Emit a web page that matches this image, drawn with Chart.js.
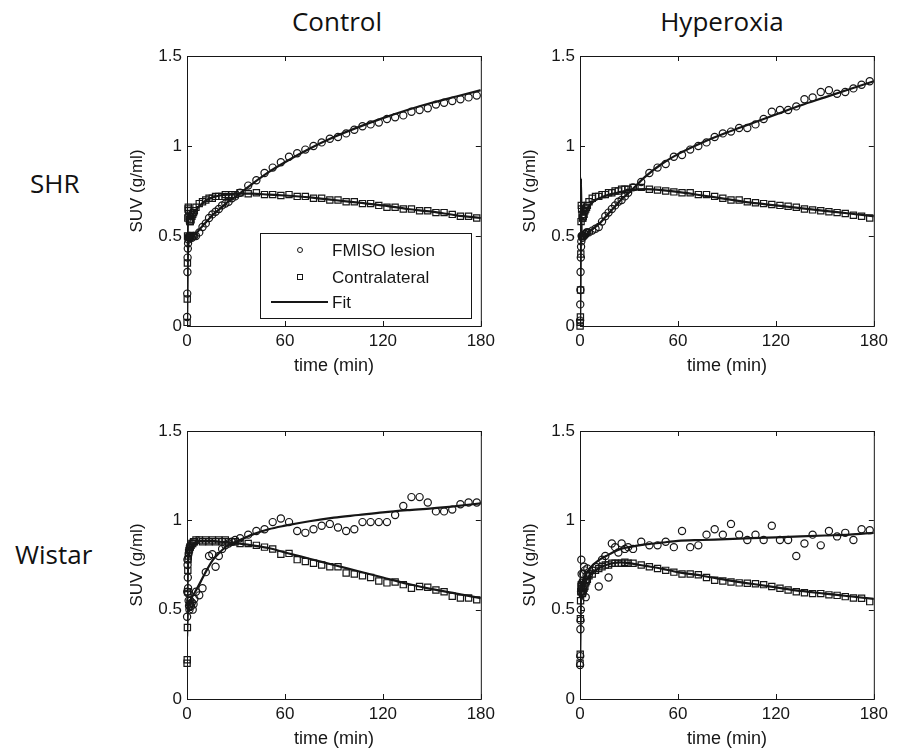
<!DOCTYPE html>
<html>
<head>
<meta charset="utf-8">
<script src="https://cdn.jsdelivr.net/npm/chart.js@4.4.0/dist/chart.umd.min.js"></script>
<style>
  body { margin: 0; background: #fff; width: 897px; height: 753px; position: relative; overflow: hidden; }
  .lbl { position: absolute; font-family: "Open Sans", sans-serif; font-size: 26px; line-height: 26px; color: #111; white-space: nowrap; }
  canvas { position: absolute; }
</style>
</head>
<body>
<div class="lbl" style="left:337px;top:8px;transform:translateX(-50%)">Control</div>
<div class="lbl" style="left:722px;top:8px;transform:translateX(-50%)">Hyperoxia</div>
<div class="lbl" style="left:30px;top:170px">SHR</div>
<div class="lbl" style="left:15px;top:541px">Wistar</div>

<canvas id="shrControl" width="380" height="350" style="left:120px;top:40px"></canvas>
<canvas id="shrHyper" width="380" height="350" style="left:513px;top:40px"></canvas>
<canvas id="wistarControl" width="380" height="348" style="left:120px;top:415px"></canvas>
<canvas id="wistarHyper" width="380" height="348" style="left:513px;top:415px"></canvas>

<script>
// PET frame mid-times (min)
const frameTimes = [0.05, 0.15, 0.25, 0.35, 0.5, 0.65, 0.8, 1.0, 1.25, 1.5, 1.75, 2.0, 2.5, 3.0, 3.5, 4.0, 4.5,
  5.5, 7.5, 9.5, 11.5, 13.5, 15.5, 17.5, 19.5, 21.5, 23.5, 25.5, 27.5, 29.5,
  32.5, 37.5, 42.5, 47.5, 52.5, 57.5, 62.5, 67.5, 72.5, 77.5, 82.5, 87.5, 92.5, 97.5, 102.5,
  107.5, 112.5, 117.5, 122.5, 127.5, 132.5, 137.5, 142.5, 147.5, 152.5, 157.5, 162.5, 167.5, 172.5, 177.5];
const fitTimes = [0, 0.3, 0.6, 1, 2, 3, 5, 8, 12, 16, 20, 25, 30, 40, 50, 60, 75, 90, 105, 120, 135, 150, 165, 180];

const xTicks = [0, 60, 120, 180];
const yTicks = [0, 0.5, 1, 1.5];
const legendLabels = ["FMISO lesion", "Contralateral", "Fit"];

// SHR control
const shrControlLesion = [0.05, 0.18, 0.30, 0.38, 0.43, 0.46, 0.48, 0.49, 0.50, 0.49, 0.50, 0.49, 0.50, 0.49, 0.50, 0.50, 0.50,
  0.50, 0.52, 0.55, 0.57, 0.60, 0.62, 0.635, 0.65, 0.67, 0.68, 0.69, 0.71, 0.72,
  0.74, 0.78, 0.81, 0.85, 0.88, 0.91, 0.94, 0.96, 0.98, 1.00, 1.02, 1.04, 1.05, 1.07, 1.09,
  1.11, 1.12, 1.13, 1.15, 1.16, 1.17, 1.19, 1.20, 1.21, 1.23, 1.24, 1.25, 1.26, 1.27, 1.28];
const shrControlContra = [0.02, 0.15, 0.35, 0.50, 0.60, 0.65, 0.66, 0.64, 0.61, 0.59, 0.58, 0.58, 0.59, 0.61, 0.62, 0.63, 0.64,
  0.66, 0.68, 0.69, 0.70, 0.71, 0.71, 0.72, 0.72, 0.72, 0.73, 0.72, 0.73, 0.73,
  0.74, 0.735, 0.74, 0.73, 0.73, 0.725, 0.73, 0.72, 0.72, 0.71, 0.71, 0.70, 0.70, 0.69, 0.69,
  0.68, 0.68, 0.67, 0.66, 0.66, 0.65, 0.65, 0.64, 0.64, 0.63, 0.63, 0.62, 0.61, 0.61, 0.60];
const shrControlFitLesion = [0, 0.30, 0.42, 0.47, 0.49, 0.50, 0.51, 0.54, 0.58, 0.62, 0.65, 0.69, 0.72, 0.79, 0.855, 0.91, 0.985, 1.05, 1.105, 1.155, 1.20, 1.24, 1.275, 1.31];
const shrControlFitContra = [0, 0.40, 0.60, 0.62, 0.60, 0.61, 0.64, 0.67, 0.70, 0.715, 0.725, 0.73, 0.735, 0.735, 0.73, 0.725, 0.715, 0.70, 0.685, 0.67, 0.65, 0.635, 0.615, 0.60];

// SHR hyperoxia
const shrHyperLesion = [0.03, 0.12, 0.20, 0.30, 0.38, 0.44, 0.47, 0.50, 0.50, 0.49, 0.50, 0.50, 0.50, 0.51, 0.51, 0.52, 0.52,
  0.52, 0.53, 0.54, 0.55, 0.58, 0.61, 0.63, 0.65, 0.67, 0.69, 0.70, 0.72, 0.74,
  0.77, 0.80, 0.85, 0.88, 0.90, 0.94, 0.95, 0.98, 1.00, 1.02, 1.05, 1.07, 1.08, 1.10, 1.10,
  1.12, 1.15, 1.19, 1.20, 1.20, 1.22, 1.26, 1.27, 1.30, 1.31, 1.29, 1.30, 1.32, 1.34, 1.36];
const shrHyperContra = [0.00, 0.02, 0.05, 0.20, 0.40, 0.58, 0.67, 0.65, 0.62, 0.60, 0.60, 0.61, 0.62, 0.64, 0.65, 0.66, 0.67,
  0.69, 0.71, 0.72, 0.72, 0.73, 0.73, 0.74, 0.74, 0.75, 0.75, 0.76, 0.76, 0.76,
  0.77, 0.77, 0.76, 0.755, 0.75, 0.745, 0.74, 0.74, 0.73, 0.73, 0.72, 0.71, 0.70, 0.70, 0.69,
  0.685, 0.68, 0.675, 0.67, 0.665, 0.66, 0.65, 0.645, 0.64, 0.635, 0.63, 0.625, 0.615, 0.61, 0.60];
const shrHyperFitLesion = [0, 0.45, 0.82, 0.52, 0.50, 0.50, 0.52, 0.54, 0.57, 0.61, 0.65, 0.70, 0.74, 0.83, 0.90, 0.955, 1.02, 1.075, 1.125, 1.175, 1.225, 1.27, 1.315, 1.36];
const shrHyperFitContra = [0, 0.30, 0.65, 0.64, 0.62, 0.63, 0.66, 0.69, 0.71, 0.725, 0.735, 0.745, 0.755, 0.76, 0.755, 0.745, 0.725, 0.705, 0.685, 0.67, 0.655, 0.64, 0.625, 0.61];

// Wistar control
const wistarControlLesion = [0.46, 0.60, 0.78, 0.75, 0.68, 0.62, 0.59, 0.55, 0.52, 0.50, 0.53, 0.55, 0.52, 0.54, 0.50, 0.53, 0.56,
  0.60, 0.58, 0.62, 0.71, 0.80, 0.81, 0.74, 0.80, 0.84, 0.86, 0.87, 0.88, 0.89,
  0.90, 0.92, 0.94, 0.95, 0.99, 1.01, 0.99, 0.94, 0.93, 0.95, 0.97, 0.98, 0.96, 0.94, 0.95,
  0.99, 0.99, 0.99, 0.99, 1.03, 1.08, 1.13, 1.13, 1.10, 1.05, 1.05, 1.06, 1.09, 1.10, 1.10];
const wistarControlContra = [0.20, 0.22, 0.40, 0.60, 0.72, 0.78, 0.80, 0.82, 0.83, 0.84, 0.85, 0.85, 0.86, 0.87, 0.87, 0.88, 0.88,
  0.89, 0.89, 0.88, 0.89, 0.88, 0.89, 0.88, 0.89, 0.88, 0.89, 0.88, 0.88, 0.88,
  0.87, 0.87, 0.86, 0.85, 0.84, 0.81, 0.815, 0.78, 0.77, 0.76, 0.75, 0.74, 0.74, 0.705, 0.70,
  0.69, 0.68, 0.66, 0.65, 0.655, 0.64, 0.62, 0.63, 0.625, 0.61, 0.60, 0.575, 0.565, 0.565, 0.555];
const wistarControlFitLesion = [0.35, 0.45, 0.50, 0.53, 0.55, 0.57, 0.60, 0.65, 0.72, 0.78, 0.82, 0.86, 0.88, 0.92, 0.95, 0.97, 0.995, 1.015, 1.03, 1.045, 1.057, 1.067, 1.08, 1.095];
const wistarControlFitContra = [0.35, 0.60, 0.75, 0.80, 0.84, 0.86, 0.875, 0.885, 0.885, 0.885, 0.88, 0.878, 0.872, 0.86, 0.845, 0.82, 0.785, 0.75, 0.715, 0.68, 0.645, 0.615, 0.59, 0.565];

// Wistar hyperoxia
const wistarHyperLesion = [0.19, 0.24, 0.39, 0.44, 0.50, 0.60, 0.78, 0.70, 0.65, 0.62, 0.66, 0.70, 0.74, 0.72, 0.57, 0.69, 0.73,
  0.70, 0.72, 0.74, 0.63, 0.78, 0.80, 0.68, 0.87, 0.85, 0.82, 0.87, 0.84, 0.85,
  0.84, 0.88, 0.86, 0.86, 0.88, 0.85, 0.94, 0.85, 0.86, 0.92, 0.95, 0.92, 0.98, 0.92, 0.89,
  0.92, 0.89, 0.97, 0.89, 0.89, 0.80, 0.87, 0.92, 0.86, 0.94, 0.91, 0.93, 0.89, 0.95, 0.945];
const wistarHyperContra = [0.20, 0.25, 0.45, 0.55, 0.60, 0.63, 0.64, 0.62, 0.60, 0.59, 0.60, 0.61, 0.62, 0.63, 0.65, 0.66, 0.67,
  0.69, 0.70, 0.72, 0.73, 0.74, 0.75, 0.75, 0.76, 0.76, 0.76, 0.76, 0.765, 0.76,
  0.76, 0.75, 0.74, 0.73, 0.72, 0.71, 0.70, 0.70, 0.695, 0.68, 0.665, 0.66, 0.655, 0.65, 0.648,
  0.645, 0.64, 0.63, 0.62, 0.61, 0.60, 0.595, 0.59, 0.59, 0.583, 0.58, 0.573, 0.565, 0.564, 0.545];
const wistarHyperFitLesion = [0.20, 0.50, 0.60, 0.64, 0.67, 0.69, 0.72, 0.75, 0.78, 0.80, 0.82, 0.84, 0.85, 0.865, 0.875, 0.885, 0.89, 0.895, 0.90, 0.905, 0.91, 0.915, 0.92, 0.93];
const wistarHyperFitContra = [0.20, 0.50, 0.60, 0.62, 0.63, 0.65, 0.68, 0.71, 0.735, 0.75, 0.76, 0.765, 0.76, 0.745, 0.73, 0.71, 0.69, 0.665, 0.645, 0.625, 0.605, 0.59, 0.575, 0.56];

const ink = "#161616";
Chart.defaults.font.family = "Liberation Sans";
Chart.defaults.color = ink;

function toPoints(xs, ys) {
  return xs.map((x, i) => ({ x, y: ys[i] }));
}

// matlab style box with inward ticks on all four sides
const frameTicks = {
  id: "frameTicks",
  afterDatasetsDraw(chart) {
    const { ctx, chartArea: a, scales: { x, y } } = chart;
    ctx.save();
    ctx.strokeStyle = ink;
    ctx.lineWidth = 1;
    ctx.strokeRect(a.left + 0.5, a.top + 0.5, a.right - a.left, a.bottom - a.top);
    ctx.beginPath();
    xTicks.forEach(v => {
      const px = Math.round(x.getPixelForValue(v)) + 0.5;
      ctx.moveTo(px, a.bottom); ctx.lineTo(px, a.bottom - 5);
      ctx.moveTo(px, a.top); ctx.lineTo(px, a.top + 5);
    });
    yTicks.forEach(v => {
      const py = Math.round(y.getPixelForValue(v)) + 0.5;
      ctx.moveTo(a.left, py); ctx.lineTo(a.left + 5, py);
      ctx.moveTo(a.right, py); ctx.lineTo(a.right - 5, py);
    });
    ctx.stroke();
    ctx.restore();
  }
};

const legendBox = {
  id: "legendBox",
  afterDraw(chart, args, opts) {
    if (!opts.show) return;
    const { ctx, chartArea: a } = chart;
    const w = 211, h = 85;
    const left = Math.round(a.right - 10 - w), top = Math.round(a.bottom - 8 - h);
    const rows = [17, 44, 69];
    ctx.save();
    ctx.fillStyle = "#fff";
    ctx.fillRect(left, top, w, h);
    ctx.strokeStyle = ink;
    ctx.lineWidth = 1;
    ctx.strokeRect(left + 0.5, top + 0.5, w, h);
    // markers + line
    ctx.beginPath();
    ctx.arc(left + 40, top + rows[0], 2.5, 0, Math.PI * 2);
    ctx.stroke();
    ctx.strokeRect(left + 37.5, top + rows[1] - 2.5, 5, 5);
    ctx.lineWidth = 2;
    ctx.beginPath();
    ctx.moveTo(left + 11, top + rows[2]);
    ctx.lineTo(left + 68, top + rows[2]);
    ctx.stroke();
    ctx.fillStyle = ink;
    ctx.font = '17px "Liberation Sans"';
    ctx.textBaseline = "middle";
    legendLabels.forEach((label, i) => ctx.fillText(label, left + 72, top + rows[i] + 1));
    ctx.restore();
  }
};

function drawPanel(canvasId, lesion, contra, fitLesion, fitContra, plotW, plotH, withLegend) {
  const canvas = document.getElementById(canvasId);
  const axisLeft = 67, padTop = 16;
  return new Chart(canvas, {
    type: "scatter",
    data: {
      datasets: [
        { type: "line", data: toPoints(fitTimes, fitLesion), borderColor: ink, borderWidth: 2.2, pointRadius: 0, cubicInterpolationMode: "monotone", fill: false },
        { type: "line", data: toPoints(fitTimes, fitContra), borderColor: ink, borderWidth: 2.2, pointRadius: 0, cubicInterpolationMode: "monotone", fill: false },
        { data: toPoints(frameTimes, lesion), pointStyle: "circle", pointRadius: 3.6, borderColor: ink, borderWidth: 1.2, backgroundColor: "rgba(0,0,0,0)", clip: 6 },
        { data: toPoints(frameTimes, contra), pointStyle: "rect", pointRadius: 4.4, borderColor: ink, borderWidth: 1.2, backgroundColor: "rgba(0,0,0,0)", clip: 6 }
      ]
    },
    options: {
      responsive: false,
      animation: false,
      devicePixelRatio: 1,
      layout: { padding: { top: padTop, left: 0, bottom: 0, right: canvas.width - axisLeft - plotW } },
      plugins: { legend: { display: false }, tooltip: { enabled: false }, legendBox: { show: withLegend } },
      scales: {
        x: {
          type: "linear", min: 0, max: 180,
          grid: { display: false, drawTicks: false },
          border: { display: false },
          ticks: { font: { size: 17 }, padding: 5, maxRotation: 0, autoSkip: false, color: ink, callback: v => String(v) },
          afterBuildTicks: s => { s.ticks = xTicks.map(v => ({ value: v })); },
          afterFit: s => { s.height = canvas.height - padTop - plotH; },
          title: { display: true, text: "time (min)", font: { size: 18 }, padding: { top: 0, bottom: 13 }, color: ink }
        },
        y: {
          type: "linear", min: 0, max: 1.5,
          grid: { display: false, drawTicks: false },
          border: { display: false },
          ticks: { font: { size: 17 }, padding: 5, autoSkip: false, color: ink, callback: v => String(v) },
          afterBuildTicks: s => { s.ticks = yTicks.map(v => ({ value: v })); },
          afterFit: s => { s.width = axisLeft; },
          title: { display: true, text: "SUV (g/ml)", font: { size: 17 }, padding: { top: 7, bottom: 0 }, color: ink }
        }
      }
    },
    plugins: [frameTicks, legendBox]
  });
}

drawPanel("shrControl", shrControlLesion, shrControlContra, shrControlFitLesion, shrControlFitContra, 299, 270, true);
drawPanel("shrHyper", shrHyperLesion, shrHyperContra, shrHyperFitLesion, shrHyperFitContra, 298, 270, false);
drawPanel("wistarControl", wistarControlLesion, wistarControlContra, wistarControlFitLesion, wistarControlFitContra, 298, 268, false);
drawPanel("wistarHyper", wistarHyperLesion, wistarHyperContra, wistarHyperFitLesion, wistarHyperFitContra, 298, 268, false);
</script>
</body>
</html>
